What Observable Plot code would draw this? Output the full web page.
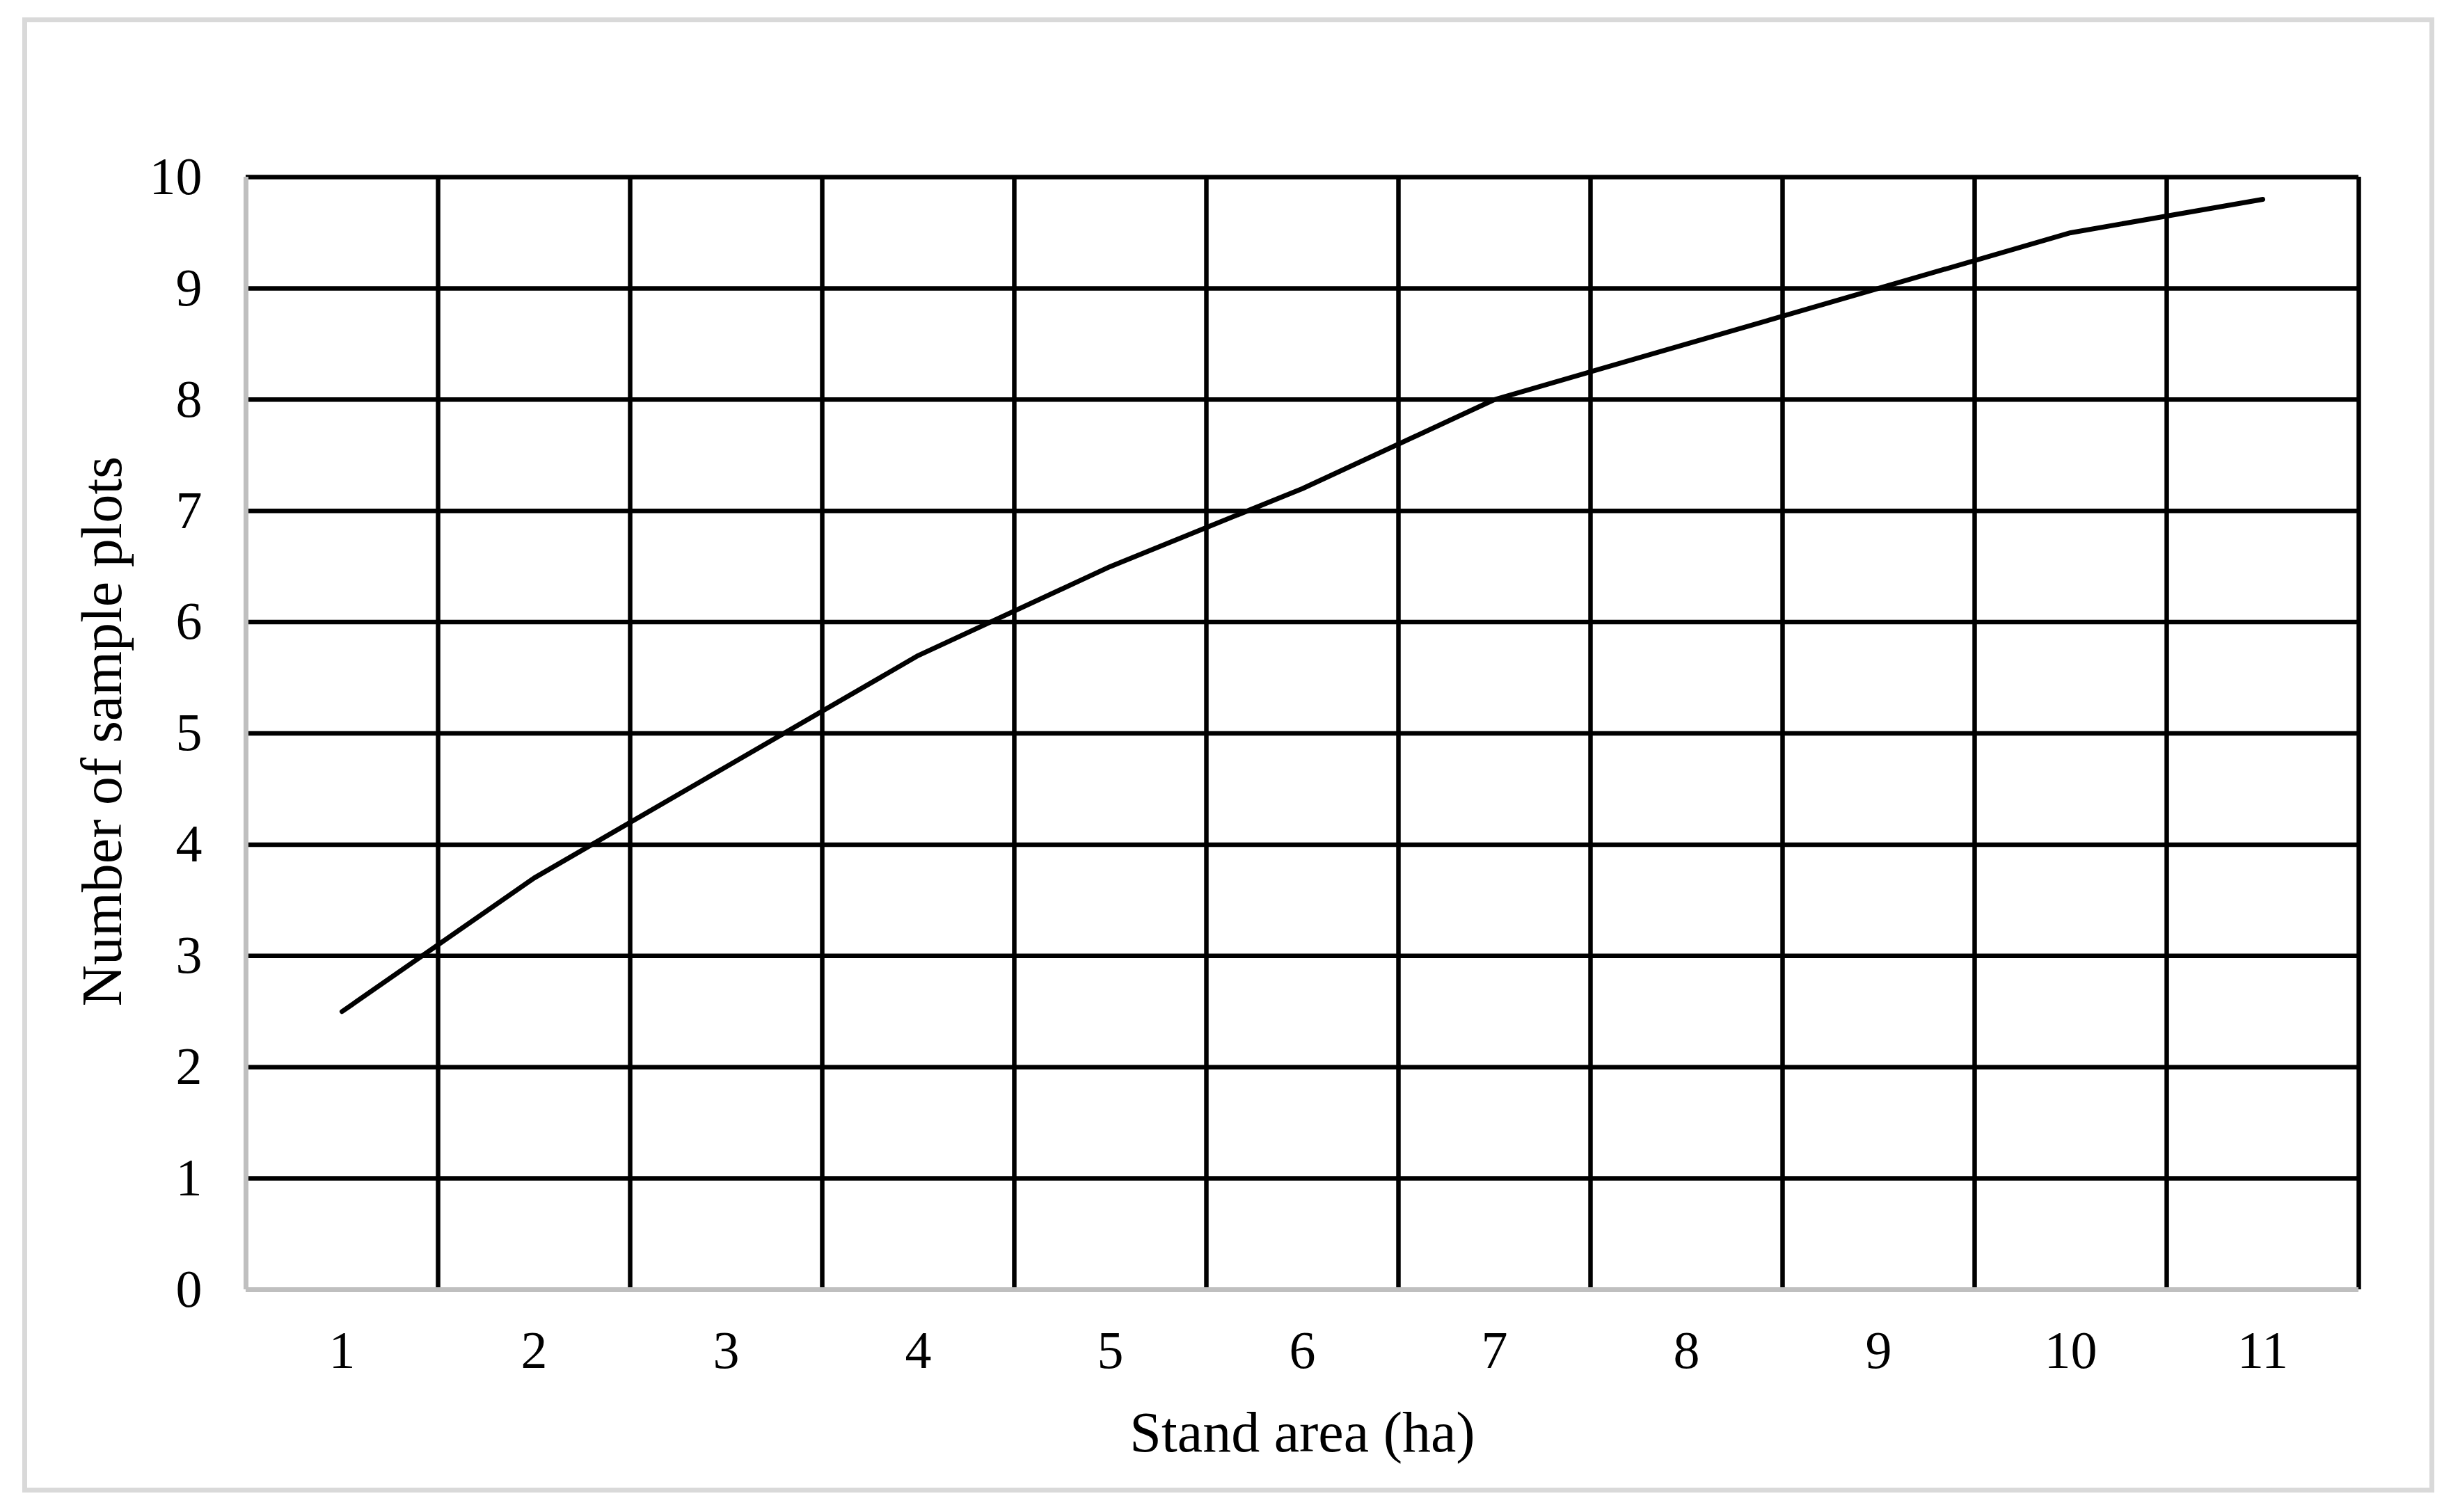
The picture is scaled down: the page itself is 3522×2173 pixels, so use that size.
<!DOCTYPE html>
<html>
<head>
<meta charset="utf-8">
<script src="https://cdn.jsdelivr.net/npm/d3@7"></script>
<script src="https://cdn.jsdelivr.net/npm/@observablehq/plot@0.6"></script>
<style>
  html, body { margin: 0; padding: 0; background: #fff; }
  #chart { position: relative; width: 3522px; height: 2173px; }
  #chart svg { position: absolute; left: 0; top: 0; }
  #border { position: absolute; left: 32px; top: 25px; width: 3466px; height: 2120px;
            box-sizing: border-box; border: 7.5px solid #d9d9d9; }
</style>
</head>
<body>
<div id="chart"><div id="border"></div></div>
<script>
// Data
const areas = [1, 2, 3, 4, 5, 6, 7, 8, 9, 10, 11];               // Stand area (ha)
const plotCounts = [2.5, 3.7, 4.7, 5.7, 6.5, 7.2, 8.0, 8.5, 9.0, 9.5, 9.8]; // Number of sample plots
const yTicks = [0, 1, 2, 3, 4, 5, 6, 7, 8, 9, 10];
const categoryBounds = [1.5, 2.5, 3.5, 4.5, 5.5, 6.5, 7.5, 8.5, 9.5, 10.5, 11.5];
const xTitle = "Stand area (ha)";
const yTitle = "Number of sample plots";

const data = areas.map((a, i) => ({area: a, n: plotCounts[i]}));
const font = "'Liberation Serif', 'Times New Roman', Times, serif";

const chart = Plot.plot({
  width: 3522,
  height: 2173,
  marginLeft: 353,
  marginRight: 133,
  marginTop: 254,
  marginBottom: 320,
  style: {fontFamily: font, fontSize: "76px", color: "#000", background: "transparent", overflow: "visible"},
  x: {domain: [0.5, 11.5]},
  y: {domain: [0, 10]},
  marks: [
    Plot.ruleY(yTicks.filter(d => d > 0), {stroke: "#000", strokeWidth: 6.5}),
    Plot.ruleX(categoryBounds, {stroke: "#000", strokeWidth: 6.5}),
    Plot.ruleY([0], {stroke: "#bfbfbf", strokeWidth: 7}),
    Plot.ruleX([0.5], {stroke: "#bfbfbf", strokeWidth: 7}),
    Plot.axisX(areas, {tickSize: 0, tickPadding: 59, label: null, fontSize: 76, tickFormat: d => String(d)}),
    Plot.axisY(yTicks, {tickSize: 0, tickPadding: 63, label: null, fontSize: 76, tickFormat: d => String(d)}),
    Plot.lineY(data, {x: "area", y: "n", stroke: "#000", strokeWidth: 7, strokeLinecap: "round", strokeLinejoin: "round"}),
    Plot.text([xTitle], {text: d => d, frameAnchor: "bottom", lineAnchor: "bottom", textAnchor: "middle", dy: 232, fontSize: 82, fill: "#000"}),
    Plot.text([yTitle], {text: d => d, frameAnchor: "left", rotate: -90, lineAnchor: "bottom", textAnchor: "middle", dx: -180, dy: -3, fontSize: 82, fill: "#000"})
  ]
});
document.getElementById("chart").appendChild(chart);
</script>
</body>
</html>
